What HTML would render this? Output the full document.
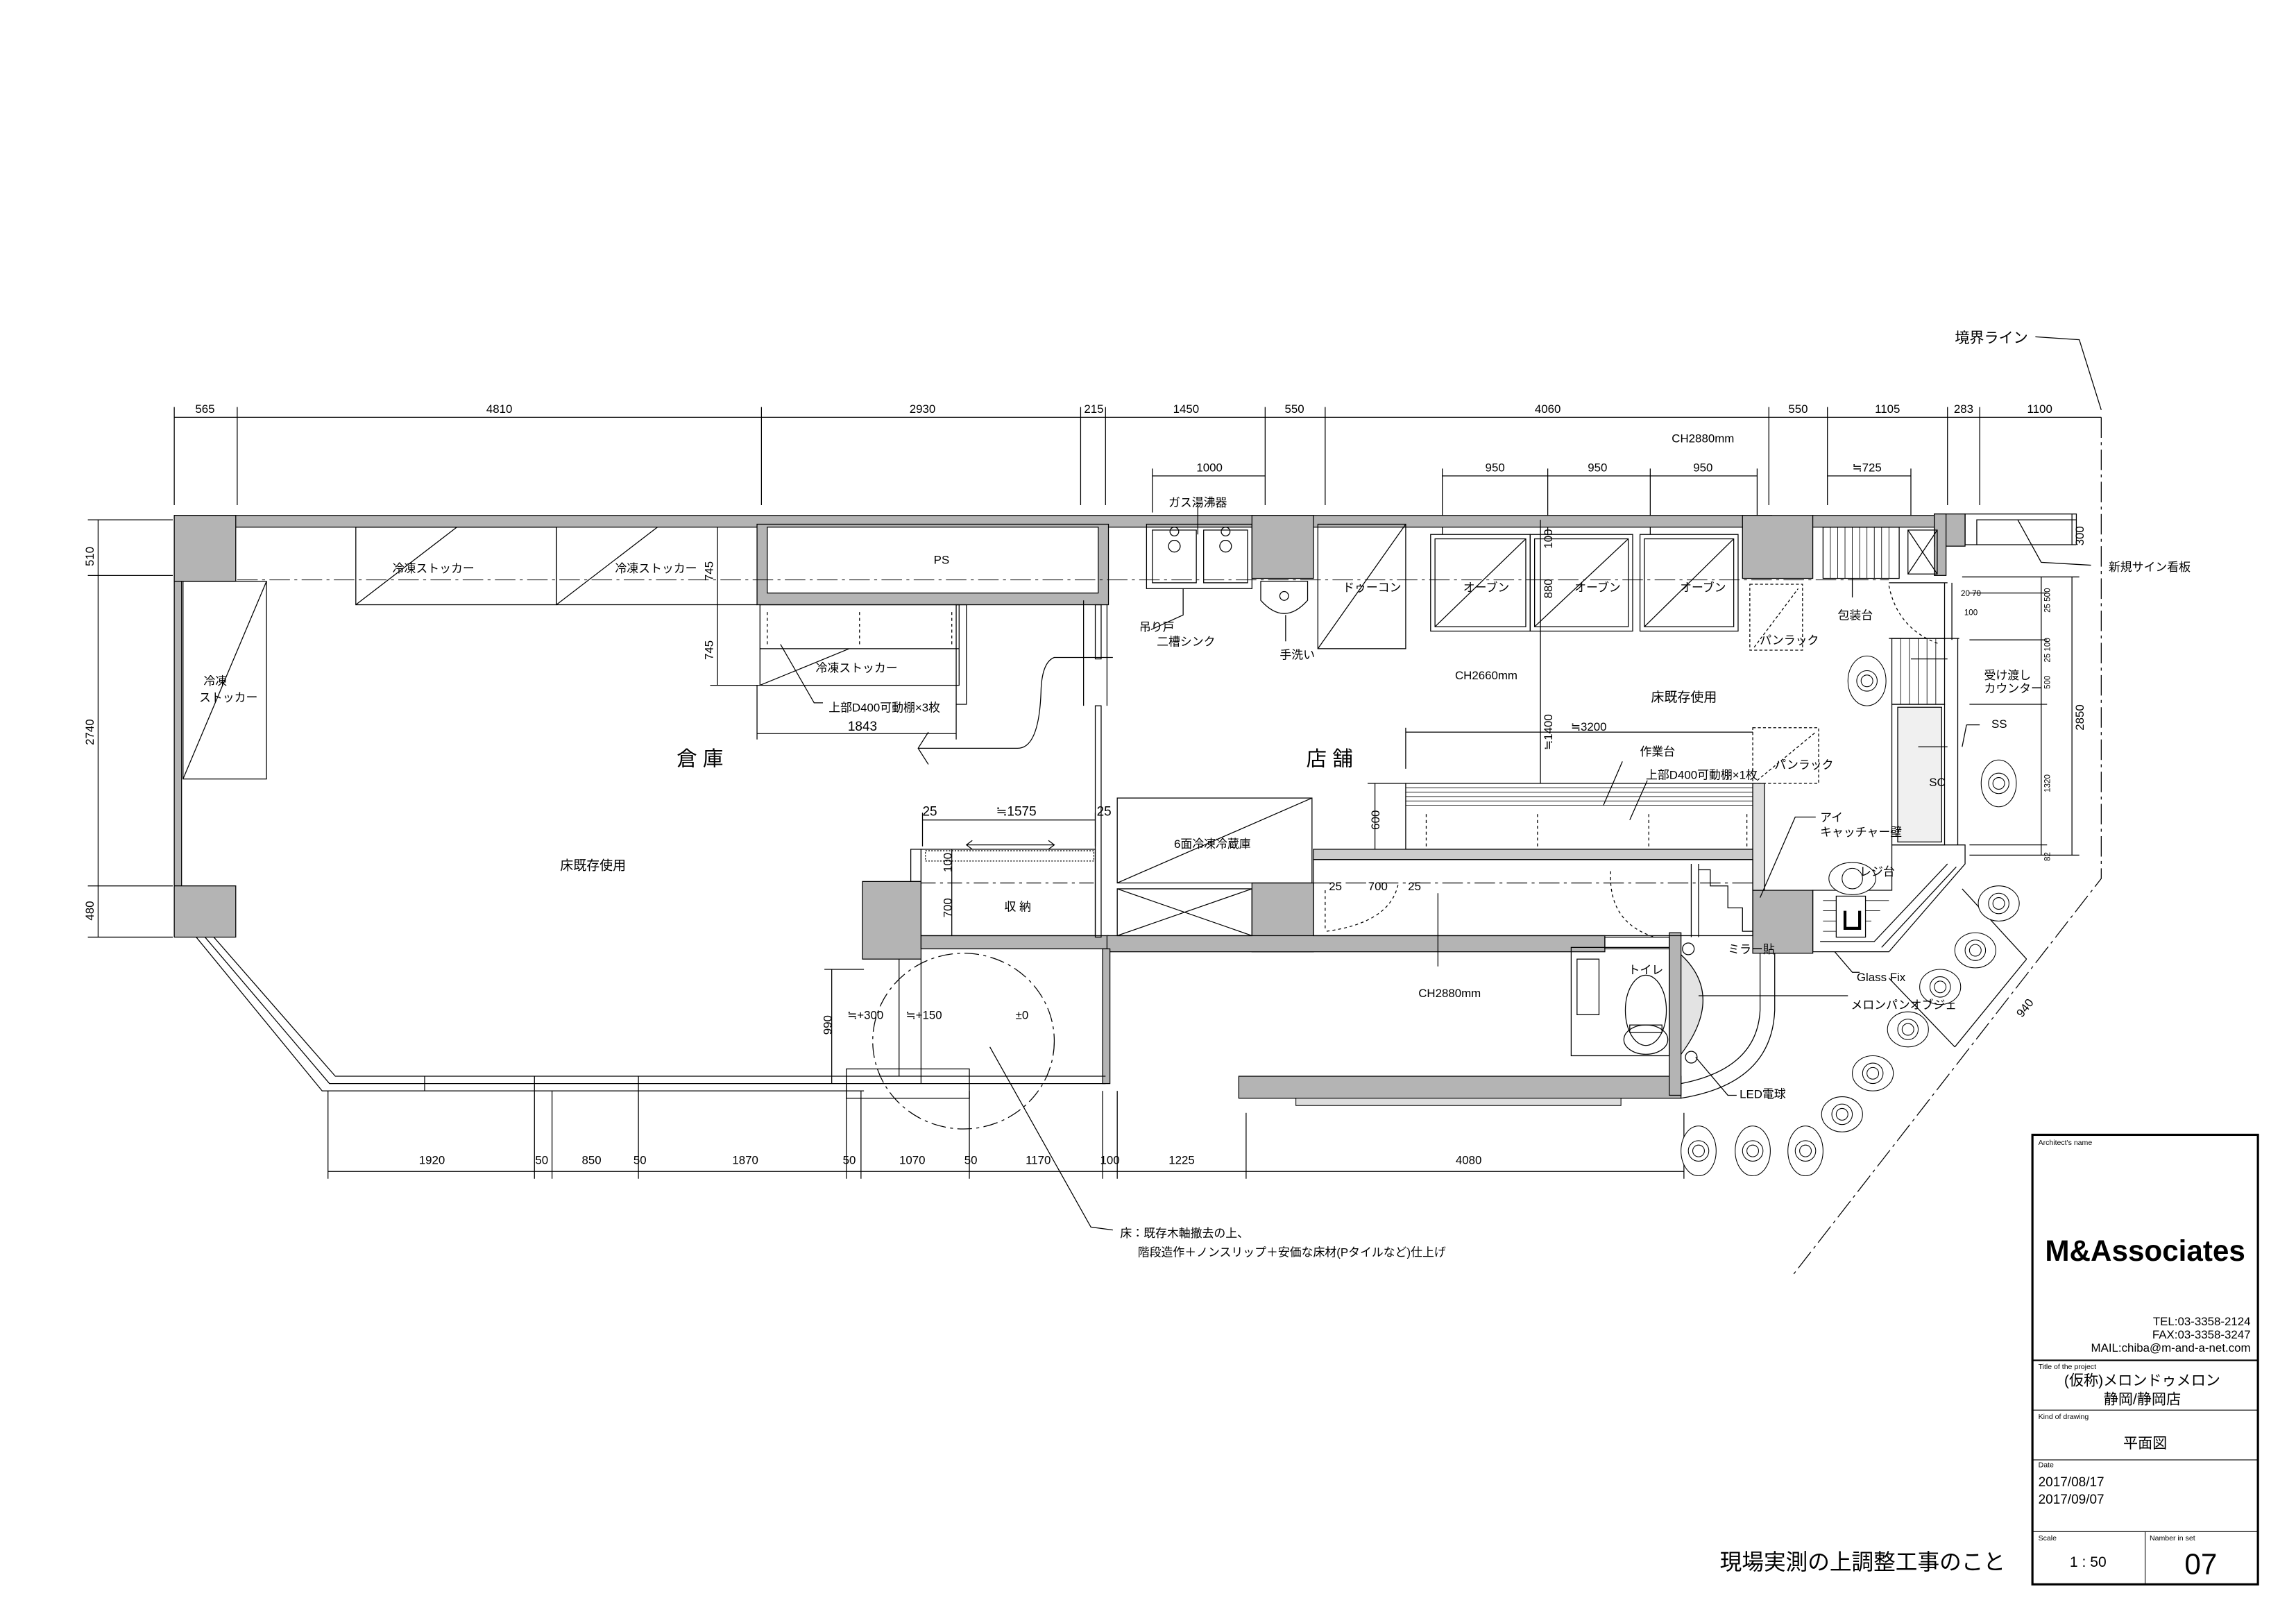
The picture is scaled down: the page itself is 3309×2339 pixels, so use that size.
<!DOCTYPE html>
<html><head><meta charset="utf-8"><style>
html,body{margin:0;padding:0;background:#fff}
svg{display:block}
text{font-family:"Liberation Sans","Noto Sans CJK JP",sans-serif;fill:#000}
</style></head><body>
<svg width="3309" height="2339" viewBox="0 0 1568 1108.4" preserveAspectRatio="none" xmlns="http://www.w3.org/2000/svg">
<rect x="0" y="0" width="1568" height="1109" fill="#fff"/>
<g stroke="#000" stroke-width="0.6" fill="none">
<!-- top dimension -->
<line x1="119" y1="285" x2="1435" y2="285"/>
<g>
<line x1="119" y1="278" x2="119" y2="345"/><line x1="162" y1="278" x2="162" y2="345"/><line x1="520" y1="278" x2="520" y2="345"/><line x1="738" y1="278" x2="738" y2="345"/><line x1="755" y1="278" x2="755" y2="345"/><line x1="864" y1="278" x2="864" y2="345"/><line x1="905" y1="278" x2="905" y2="345"/><line x1="1208" y1="278" x2="1208" y2="345"/><line x1="1248" y1="278" x2="1248" y2="345"/><line x1="1330" y1="278" x2="1330" y2="345"/><line x1="1352" y1="278" x2="1352" y2="345"/>
</g>
<line x1="787" y1="325" x2="864" y2="325"/><line x1="787" y1="320" x2="787" y2="350"/>
<line x1="985" y1="325" x2="1200" y2="325"/><line x1="985" y1="320" x2="985" y2="365"/><line x1="1057" y1="320" x2="1057" y2="365"/><line x1="1127" y1="320" x2="1127" y2="365"/><line x1="1200" y1="320" x2="1200" y2="365"/>
<line x1="1248" y1="325" x2="1305" y2="325"/><line x1="1305" y1="320" x2="1305" y2="360"/>
<!-- left dimension -->
<line x1="67" y1="355" x2="67" y2="640"/>
<line x1="60" y1="355" x2="118" y2="355"/><line x1="60" y1="393" x2="118" y2="393"/><line x1="60" y1="605" x2="118" y2="605"/><line x1="60" y1="640" x2="118" y2="640"/>
<!-- bottom dimension -->
<line x1="224" y1="800" x2="1150" y2="800"/>
<g>
<line x1="224" y1="745" x2="224" y2="805"/><line x1="365" y1="745" x2="365" y2="805"/><line x1="377" y1="745" x2="377" y2="805"/><line x1="436" y1="745" x2="436" y2="805"/><line x1="578" y1="745" x2="578" y2="805"/><line x1="588" y1="745" x2="588" y2="805"/><line x1="662" y1="745" x2="662" y2="805"/><line x1="753" y1="745" x2="753" y2="805"/><line x1="763" y1="745" x2="763" y2="805"/><line x1="851" y1="760" x2="851" y2="805"/><line x1="1150" y1="760" x2="1150" y2="805"/>
</g>
<!-- boundary line -->
<path d="M1390 230 L1420 232 L1435 280" />
<path d="M1435 285 L1435 600 L1225 870" stroke-dasharray="14 3 2 3"/>
<!-- 940 dim -->
<path d="M1340 607 L1384 655 M1384 655 L1335 715 M1335 715 L1290 668" />
</g>

<!-- WALLS gray -->
<g fill="#b4b4b4" stroke="#000" stroke-width="0.6">
<rect x="119" y="352" width="1091" height="8"/>
<rect x="119" y="352" width="42" height="45"/>
<rect x="119" y="397" width="5" height="208"/>
<rect x="119" y="605" width="42" height="35"/>
<rect x="855" y="352" width="42" height="43"/>
<rect x="1190" y="352" width="48" height="43"/>
<rect x="1238" y="352" width="84" height="8"/>
<rect x="1321" y="351" width="21" height="22"/>
<rect x="1321" y="351" width="8" height="42"/>
<rect x="517" y="358" width="240" height="55"/>
<rect x="589" y="602" width="40" height="53"/>
<rect x="855" y="603" width="42" height="47"/>
<rect x="1197" y="608" width="41" height="43"/>
<rect x="846" y="735" width="302" height="15"/>
<rect x="1140" y="637" width="8" height="111"/>
<rect x="629" y="639" width="128" height="9"/>
<rect x="756" y="639" width="340" height="11"/>
<rect x="753" y="648" width="5" height="92"/>
</g>
<g fill="#fff" stroke="#000" stroke-width="0.6">
<rect x="524" y="360" width="226" height="45"/>
</g>
<g fill="#ddd" stroke="#000" stroke-width="0.5"><rect x="885" y="750" width="222" height="5"/></g>

<g stroke="#000" stroke-width="0.6" fill="none">
<path d="M140 640 L225 740 L755 740"/>
<path d="M146 640 L229 735 L755 735"/>
<path d="M134 640 L220 745 L590 745"/>
<line x1="290" y1="735" x2="290" y2="745"/><line x1="365" y1="735" x2="365" y2="745"/><line x1="436" y1="735" x2="436" y2="745"/><line x1="578" y1="735" x2="578" y2="745"/>
<rect x="578" y="730" width="84" height="20"/>
<rect x="125" y="397" width="57" height="135"/>
<line x1="182" y1="397" x2="125" y2="532"/>
<rect x="243" y="360" width="137" height="53"/><line x1="380" y1="360" x2="380" y2="413"/>
<line x1="243" y1="413" x2="312" y2="360"/><line x1="380" y1="413" x2="449" y2="360"/>
<line x1="380" y1="413" x2="517" y2="413"/>
<rect x="519" y="413" width="136" height="55"/><line x1="519" y1="443" x2="655" y2="443"/>
<line x1="519" y1="468" x2="580" y2="443"/>
<rect x="653" y="413" width="7" height="68"/>
<line x1="524" y1="418" x2="524" y2="440" stroke-dasharray="2 2"/><line x1="587" y1="418" x2="587" y2="440" stroke-dasharray="2 2"/><line x1="650" y1="418" x2="650" y2="440" stroke-dasharray="2 2"/>
<line x1="490" y1="360" x2="490" y2="468"/><line x1="485" y1="468" x2="519" y2="468"/>
<line x1="517" y1="501" x2="653" y2="501"/><line x1="517" y1="468" x2="517" y2="505"/><line x1="653" y1="481" x2="653" y2="505"/>
<path d="M533 440 L556 480 L562 480"/>
<path d="M760 449 L720 449 Q712 452 711 470 Q710 511 695 511 L627 511 M634 500 L627 511 L634 522"/>
<rect x="748" y="413" width="4" height="37"/><rect x="748" y="482" width="4" height="158"/>
<line x1="740" y1="410" x2="740" y2="482"/>
<path d="M756 413 L756 482"/>
<rect x="629" y="580" width="119" height="59"/>
<rect x="622" y="580" width="7" height="22"/>
<rect x="632" y="581" width="115" height="7" stroke-dasharray="1 1"/>
<line x1="629" y1="603" x2="748" y2="603" stroke-dasharray="10 3 2 3"/>
<line x1="630" y1="560" x2="748" y2="560"/><line x1="630" y1="555" x2="630" y2="578"/><line x1="748" y1="555" x2="748" y2="578"/>
<line x1="650" y1="580" x2="650" y2="639"/>
<path d="M660 577 L720 577 M664 574 L660 577 L664 580 M716 574 L720 577 L716 580"/>
<ellipse cx="658" cy="711" rx="62" ry="60" stroke-dasharray="10 3 2 3"/>
<line x1="629" y1="655" x2="629" y2="740"/><line x1="614" y1="655" x2="614" y2="735"/>
<line x1="568" y1="662" x2="568" y2="740"/><line x1="563" y1="662" x2="590" y2="662"/>
<path d="M676 715 L745 838 L760 840"/>
<rect x="763" y="545" width="133" height="58"/><line x1="763" y1="603" x2="896" y2="545"/>
<rect x="763" y="607" width="92" height="32"/><line x1="763" y1="607" x2="855" y2="639"/><line x1="855" y1="607" x2="763" y2="639"/>
<rect x="783" y="358" width="72" height="44"/>
<rect x="787" y="362" width="30" height="36"/><rect x="822" y="362" width="30" height="36"/>
<circle cx="802" cy="373" r="4"/><circle cx="837" cy="373" r="4"/>
<circle cx="802" cy="363" r="3"/><circle cx="837" cy="363" r="3"/>
<line x1="818" y1="345" x2="818" y2="365"/>
<path d="M808 402 L808 420 L786 430" />
<path d="M861 397 L893 397 L893 410 Q877 428 861 410 Z"/>
<circle cx="877" cy="407" r="3"/>
<line x1="878" y1="420" x2="878" y2="438"/>
<rect x="900" y="358" width="60" height="85"/><line x1="900" y1="443" x2="960" y2="358"/>
<rect x="977" y="365" width="68" height="66"/><rect x="980" y="368" width="62" height="60"/><line x1="980" y1="428" x2="1042" y2="368"/>
<rect x="1045" y="365" width="70" height="66"/><rect x="1048" y="368" width="64" height="60"/><line x1="1048" y1="428" x2="1112" y2="368"/>
<rect x="1120" y="365" width="67" height="66"/><rect x="1123" y="368" width="61" height="60"/><line x1="1123" y1="428" x2="1184" y2="368"/>
<line x1="1052" y1="355" x2="1052" y2="535"/>
<line x1="162" y1="396" x2="1290" y2="396" stroke-dasharray="14 3 2 3" stroke-width="0.4"/>
<rect x="1245" y="360" width="52" height="35"/>
<g stroke-width="0.4"><line x1="1250" y1="360" x2="1250" y2="395"/><line x1="1255" y1="360" x2="1255" y2="395"/><line x1="1260" y1="360" x2="1260" y2="395"/><line x1="1265" y1="360" x2="1265" y2="395"/><line x1="1270" y1="360" x2="1270" y2="395"/><line x1="1275" y1="360" x2="1275" y2="395"/><line x1="1280" y1="360" x2="1280" y2="395"/><line x1="1285" y1="360" x2="1285" y2="395"/><line x1="1290" y1="360" x2="1290" y2="395"/></g>
<rect x="1303" y="362" width="20" height="30"/><line x1="1303" y1="362" x2="1323" y2="392"/><line x1="1323" y1="362" x2="1303" y2="392"/>
<line x1="1265" y1="395" x2="1265" y2="408"/>
<path d="M1342 351 L1418 351 L1418 355 L1350 355 L1350 372 L1342 372 Z"/>
<line x1="1350" y1="372" x2="1418" y2="372"/>
<path d="M1378 355 L1394 384 L1428 386"/>
<line x1="1415" y1="351" x2="1415" y2="372"/>
<rect x="1195" y="399" width="36" height="45" stroke-dasharray="2 1.5"/><line x1="1198" y1="442" x2="1228" y2="402" stroke-dasharray="2 1.5"/>
<rect x="1197" y="497" width="45" height="38" stroke-dasharray="2 1.5"/><line x1="1200" y1="533" x2="1240" y2="500" stroke-dasharray="2 1.5"/>
<path d="M1290 400 Q1296 430 1325 440" stroke-dasharray="2 2"/>
<line x1="1290" y1="398" x2="1330" y2="398"/>
<line x1="1328" y1="398" x2="1328" y2="437"/><line x1="1333" y1="398" x2="1333" y2="437"/>
<line x1="960" y1="500" x2="1197" y2="500"/><line x1="960" y1="497" x2="960" y2="525"/>
<rect x="960" y="535" width="237" height="45"/>
<g stroke-width="0.4"><line x1="960" y1="538" x2="1197" y2="538"/><line x1="960" y1="541" x2="1197" y2="541"/><line x1="960" y1="544" x2="1197" y2="544"/><line x1="960" y1="547" x2="1197" y2="547"/><line x1="960" y1="550" x2="1197" y2="550"/></g>
<line x1="974" y1="556" x2="974" y2="578" stroke-dasharray="2 2"/><line x1="1050" y1="556" x2="1050" y2="578" stroke-dasharray="2 2"/><line x1="1126" y1="556" x2="1126" y2="578" stroke-dasharray="2 2"/><line x1="1193" y1="556" x2="1193" y2="578" stroke-dasharray="2 2"/>
<rect x="897" y="580" width="300" height="7" fill="#ccc"/>
<line x1="939" y1="535" x2="939" y2="580"/><line x1="934" y1="535" x2="960" y2="535"/>
<path d="M1108 520 L1095 550 M1125 533 L1113 560"/>
<rect x="1197" y="535" width="8" height="73" fill="#ddd"/>
<path d="M1240 558 L1226 558 L1202 613"/>
<rect x="897" y="587" width="300" height="52"/>
<line x1="897" y1="603" x2="1197" y2="603" stroke-dasharray="14 3 2 3"/>
<path d="M905 608 L905 635 M906 636 Q950 630 955 603" stroke-dasharray="2 2"/>
<line x1="982" y1="610" x2="982" y2="660"/>
<path d="M1155 590 L1155 640 M1160 590 L1160 640 M1160 594 L1168 594 L1168 605 L1180 605 L1180 620 L1190 620 L1190 636 L1197 636"/>
<path d="M1100 595 Q1098 630 1130 640" stroke-dasharray="2 2"/>
<rect x="1096" y="640" width="44" height="8"/>
<rect x="1073" y="647" width="67" height="74"/>
<rect x="1077" y="655" width="15" height="38"/>
<ellipse cx="1124" cy="690" rx="14" ry="24"/>
<ellipse cx="1124" cy="710" rx="15" ry="10"/>
<rect x="1113" y="700" width="22" height="5"/>
<path d="M1148 652 Q1178 680 1148 720 Z" fill="#e3e3e3"/>
<circle cx="1153" cy="648" r="4"/><circle cx="1155" cy="722" r="4"/>
<path d="M1202 651 L1202 690 Q1200 730 1148 740"/>
<path d="M1212 651 L1212 690 Q1210 740 1148 750"/>
<path d="M1160 680 L1262 680"/>
<path d="M1158 722 L1180 748 L1186 748"/>
<rect x="1292" y="436" width="36" height="45"/>
<g stroke-width="0.4"><line x1="1298" y1="436" x2="1298" y2="481"/><line x1="1304" y1="436" x2="1304" y2="481"/><line x1="1310" y1="436" x2="1310" y2="481"/><line x1="1316" y1="436" x2="1316" y2="481"/><line x1="1322" y1="436" x2="1322" y2="481"/></g>
<rect x="1292" y="481" width="36" height="96"/>
<rect x="1296" y="483" width="30" height="92" fill="#f0f0f0"/>
<line x1="1290" y1="436" x2="1338" y2="436"/><line x1="1292" y1="577" x2="1342" y2="577"/>
<line x1="1310" y1="510" x2="1330" y2="510"/>
<line x1="1337" y1="436" x2="1337" y2="577"/>
<line x1="1343" y1="495" x2="1340" y2="510"/><line x1="1343" y1="495" x2="1352" y2="495"/>
<path d="M1305 450 L1330 450"/>
<path d="M1292 577 L1342 577 L1342 590 L1290 650 L1238 650 L1238 608 L1292 608 Z"/>
<path d="M1330 590 L1280 643 L1243 643"/>
<path d="M1336 592 L1285 647"/>
<g stroke-width="0.4"><line x1="1245" y1="615" x2="1290" y2="615"/><line x1="1245" y1="622" x2="1284" y2="622"/><line x1="1245" y1="629" x2="1278" y2="629"/><line x1="1245" y1="636" x2="1272" y2="636"/></g>
<rect x="1254" y="612" width="20" height="28" fill="#fff"/>
<path d="M1260 622 L1260 634 L1270 634 L1270 622" stroke-width="2"/>
<path d="M1253 650 L1265 664 L1270 664"/>
<line x1="1394" y1="394" x2="1394" y2="584"/><line x1="1415" y1="394" x2="1415" y2="584"/>
<line x1="1340" y1="394" x2="1420" y2="394"/><line x1="1345" y1="405" x2="1398" y2="405"/><line x1="1345" y1="437" x2="1398" y2="437"/><line x1="1345" y1="481" x2="1398" y2="481"/><line x1="1345" y1="577" x2="1398" y2="577"/><line x1="1345" y1="584" x2="1420" y2="584"/>
<line x1="1418" y1="355" x2="1418" y2="372"/>
</g>

<!-- people -->
<g stroke="#000" stroke-width="0.5" fill="#fff">
<g transform="translate(1275,465)"><ellipse rx="13" ry="17"/><circle r="7"/><circle r="4"/></g>
<g transform="translate(1365,535)"><ellipse rx="12" ry="16"/><circle r="7"/><circle r="4"/></g>
<g transform="translate(1265,600)"><ellipse rx="16" ry="11"/><circle r="7"/></g>
<g transform="translate(1365,617)"><ellipse rx="14" ry="12"/><circle r="7"/><circle r="4"/></g>
<g transform="translate(1349,649)"><ellipse rx="14" ry="12"/><circle r="7"/><circle r="4"/></g>
<g transform="translate(1325,674)"><ellipse rx="14" ry="12"/><circle r="7"/><circle r="4"/></g>
<g transform="translate(1303,703)"><ellipse rx="14" ry="12"/><circle r="7"/><circle r="4"/></g>
<g transform="translate(1279,733)"><ellipse rx="14" ry="12"/><circle r="7"/><circle r="4"/></g>
<g transform="translate(1258,761)"><ellipse rx="14" ry="12"/><circle r="7"/><circle r="4"/></g>
<g transform="translate(1233,786)"><ellipse rx="12" ry="17"/><circle r="7"/><circle r="4"/></g>
<g transform="translate(1197,786)"><ellipse rx="12" ry="17"/><circle r="7"/><circle r="4"/></g>
<g transform="translate(1160,786)"><ellipse rx="12" ry="17"/><circle r="7"/><circle r="4"/></g>
</g>

<!-- TEXT -->
<g font-size="8" text-anchor="middle">
<text x="140" y="282">565</text><text x="341" y="282">4810</text><text x="630" y="282">2930</text><text x="747" y="282">215</text><text x="810" y="282">1450</text><text x="884" y="282">550</text><text x="1057" y="282">4060</text><text x="1228" y="282">550</text><text x="1289" y="282">1105</text><text x="1341" y="282">283</text><text x="1393" y="282">1100</text>
<text x="1163" y="302">CH2880mm</text>
<text x="826" y="322">1000</text><text x="1021" y="322">950</text><text x="1091" y="322">950</text><text x="1163" y="322">950</text><text x="1275" y="322">≒725</text>
<text x="295" y="795">1920</text><text x="370" y="795">50</text><text x="404" y="795">850</text><text x="437" y="795">50</text><text x="509" y="795">1870</text><text x="580" y="795">50</text><text x="623" y="795">1070</text><text x="663" y="795">50</text><text x="709" y="795">1170</text><text x="758" y="795">100</text><text x="807" y="795">1225</text><text x="1003" y="795">4080</text>
<text transform="translate(64,380) rotate(-90)">510</text>
<text transform="translate(64,500) rotate(-90)">2740</text>
<text transform="translate(64,622) rotate(-90)">480</text>
<text x="296" y="391">冷凍ストッカー</text><text x="448" y="391">冷凍ストッカー</text>
<text x="643" y="385">PS</text>
<text transform="translate(487,390) rotate(-90)">745</text>
<text transform="translate(487,444) rotate(-90)">745</text>
<text x="585" y="459">冷凍ストッカー</text>
<text x="604" y="486">上部D400可動棚×3枚</text>
<text x="589" y="499" font-size="9">1843</text>
<text x="147" y="468">冷凍</text><text x="156" y="479">ストッカー</text>
<text x="405" y="594" font-size="9">床既存使用</text>
<text x="635" y="557" font-size="9">25</text><text x="694" y="557" font-size="9">≒1575</text><text x="754" y="557" font-size="9">25</text>
<text transform="translate(650,589) rotate(-90)">100</text>
<text transform="translate(650,620) rotate(-90)">700</text>
<text x="695" y="622">収 納</text>
<text transform="translate(568,700) rotate(-90)">990</text>
<text x="591" y="696">≒+300</text><text x="631" y="696">≒+150</text><text x="698" y="696">±0</text>
<text x="818" y="346">ガス湯沸器</text>
<text x="778" y="431" text-anchor="start">吊り戸</text><text x="790" y="441" text-anchor="start">二槽シンク</text>
<text x="886" y="450">手洗い</text>
<text x="937" y="404">ドゥーコン</text>
<text x="1015" y="404">オーブン</text><text x="1091" y="404">オーブン</text><text x="1163" y="404">オーブン</text>
<text transform="translate(1060,368) rotate(-90)">100</text>
<text transform="translate(1060,402) rotate(-90)">880</text>
<text transform="translate(1060,500) rotate(-90)">≒1400</text>
<text x="1015" y="464">CH2660mm</text>
<text x="1150" y="479" font-size="9">床既存使用</text>
<text x="1085" y="499">≒3200</text>
<text x="1222" y="440">パンラック</text>
<text x="1232" y="525">パンラック</text>
<text x="1267" y="423">包装台</text>
<text x="1120" y="516" text-anchor="start">作業台</text>
<text x="1124" y="532" text-anchor="start">上部D400可動棚×1枚</text>
<text transform="translate(942,560) rotate(-90)">600</text>
<text x="1243" y="561" text-anchor="start">アイ</text>
<text x="1243" y="571" text-anchor="start">キャッチャー壁</text>
<text x="828" y="579">6面冷凍冷蔵庫</text>
<text x="912" y="608">25</text><text x="941" y="608">700</text><text x="966" y="608">25</text>
<text x="990" y="681">CH2880mm</text>
<text x="1124" y="665">トイレ</text>
<text x="1180" y="651" text-anchor="start">ミラー貼</text>
<text x="1268" y="670" text-anchor="start">Glass Fix</text>
<text x="1264" y="689" text-anchor="start">メロンパンオブジェ</text>
<text x="1188" y="750" text-anchor="start">LED電球</text>
<text x="1270" y="598" text-anchor="start">レジ台</text>
<text x="1360" y="497" text-anchor="start">SS</text>
<text x="1323" y="537">SC</text>
<text x="1355" y="464" text-anchor="start">受け渡し</text><text x="1355" y="473" text-anchor="start">カウンター</text>
<text x="1440" y="390" text-anchor="start">新規サイン看板</text>
<text transform="translate(1423,366) rotate(-90)">300</text>
<text transform="translate(1423,490) rotate(-90)">2850</text>
<g font-size="5.5"><text transform="translate(1400,410) rotate(-90)">25 500</text><text transform="translate(1400,444) rotate(-90)">25 100</text><text transform="translate(1400,466) rotate(-90)">500</text><text transform="translate(1400,535) rotate(-90)">1320</text><text transform="translate(1400,585) rotate(-90)">82</text><text x="1346" y="407">20 70</text><text x="1346" y="420">100</text></g>
<text transform="translate(1385,690) rotate(-52)">940</text>
<text x="1360" y="234" font-size="10">境界ライン</text>
<text x="765" y="845" text-anchor="start">床：既存木軸撤去の上、</text>
<text x="777" y="858" text-anchor="start">階段造作＋ノンスリップ＋安価な床材(Pタイルなど)仕上げ</text>
</g>
<text x="478" y="523" font-size="14" text-anchor="middle">倉 庫</text>
<text x="908" y="523" font-size="14" text-anchor="middle">店 舗</text>

<!-- title block -->
<g stroke="#000" fill="none">
<rect x="1388" y="775" width="154" height="307" stroke-width="1.5"/>
<line x1="1388" y1="929" x2="1542" y2="929" stroke-width="1"/>
<line x1="1388" y1="963" x2="1542" y2="963" stroke-width="0.5"/>
<line x1="1388" y1="997" x2="1542" y2="997" stroke-width="0.5"/>
<line x1="1388" y1="1046" x2="1542" y2="1046" stroke-width="0.5"/>
<line x1="1465" y1="1046" x2="1465" y2="1082" stroke-width="0.5"/>
</g>
<g font-size="5">
<text x="1392" y="782">Architect's name</text>
<text x="1392" y="935">Title of the project</text>
<text x="1392" y="969">Kind of drawing</text>
<text x="1392" y="1002">Date</text>
<text x="1392" y="1052">Scale</text>
<text x="1468" y="1052">Namber in set</text>
</g>
<text x="1465" y="861" font-size="20" font-weight="bold" text-anchor="middle">M&amp;Associates</text>
<g font-size="8" text-anchor="end"><text x="1537" y="905">TEL:03-3358-2124</text><text x="1537" y="914">FAX:03-3358-3247</text><text x="1537" y="923">MAIL:chiba@m-and-a-net.com</text></g>
<g font-size="10" text-anchor="middle"><text x="1463" y="946">(仮称)メロンドゥメロン</text><text x="1463" y="959">静岡/静岡店</text><text x="1465" y="989">平面図</text><text x="1426" y="1070">1 : 50</text></g>
<g font-size="9"><text x="1392" y="1015">2017/08/17</text><text x="1392" y="1027">2017/09/07</text></g>
<text x="1503" y="1075" font-size="20" text-anchor="middle">07</text>
<text x="1272" y="1072" font-size="15" text-anchor="middle">現場実測の上調整工事のこと</text>
</svg>
</body></html>
